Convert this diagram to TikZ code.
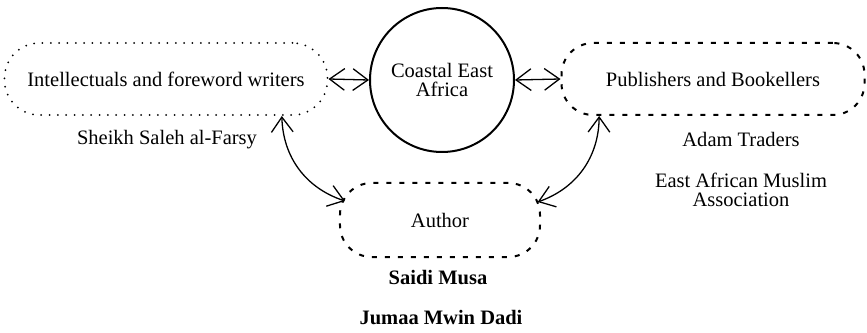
\documentclass[tikz,border=0pt]{standalone}
\usepackage{fontspec}
\setmainfont{Liberation Serif}
\usepackage{tikz}
\usetikzlibrary{arrows.meta}

\begin{document}
\begin{tikzpicture}[
    every node/.style={font=\fontsize{17.5}{16.8}\selectfont},
    dotbox/.style={draw,line width=0.06cm,line cap=round,dash pattern=on 0pt off 0.25cm,rounded corners=1.05cm},
    dashbox/.style={draw,line width=0.06cm,dash pattern=on 0.15cm off 0.24cm,rounded corners=0.95cm},
    link/.style={line width=1.1pt,{Straight Barb[length=0.45cm,width=0.65cm]}-{Straight Barb[length=0.45cm,width=0.65cm]}}
  ]
  \useasboundingbox (-13.26,-7.59) rectangle (12.75,2.4);

  \node[draw,circle,line width=0.06cm,minimum size=4.32cm,align=center](coast){Coastal East\\Africa};
  \node[dotbox,minimum height=2.16cm,minimum width=9.69cm,xshift=-8.28cm,yshift=0.03cm](intel){Intellectuals and foreword writers};
  \node[dashbox,minimum height=2.16cm,minimum width=9.09cm,xshift=8.13cm,yshift=0.03cm](pub){Publishers and Bookellers};
  \node[dashbox,minimum height=2.22cm,minimum width=6cm,xshift=-0.06cm,yshift=-4.2cm](author){Author};

  \node[anchor=center,xshift=-8.25cm,yshift=-1.8cm](farsy){Sheikh Saleh al-Farsy};
  \node[anchor=center,xshift=8.97cm,yshift=-1.78cm](adam){Adam Traders};
  \node[anchor=center,xshift=8.97cm,yshift=-3.3cm,align=center](eama){East African Muslim\\Association};
  \node[anchor=center,xshift=-0.12cm,yshift=-5.94cm,font=\fontsize{17.5}{16.8}\selectfont\bfseries](saidi){Saidi Musa};
  \node[anchor=center,xshift=-0.03cm,yshift=-7.14cm,font=\fontsize{17.5}{16.8}\selectfont\bfseries](jumaa){Jumaa Mwin Dadi};

  \draw[link] (intel.east) -- (coast.west);
  \draw[link] (coast.east) -- (pub.west);
  \draw[link] ([xshift=-1.4cm]intel.south east) to[bend right=35] ([xshift=0.18cm,yshift=-0.57cm]author.north west);
  \draw[link] ([xshift=1.16cm]pub.south west) to[bend left=35] ([xshift=-0.1cm,yshift=-0.6cm]author.north east);
\end{tikzpicture}
\end{document}
